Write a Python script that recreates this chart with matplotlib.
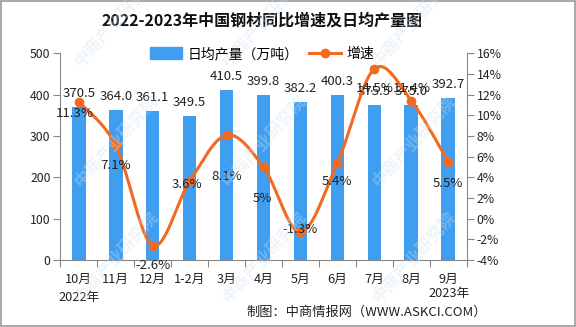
import numpy as np
import matplotlib
matplotlib.use("Agg")
import matplotlib.pyplot as plt
from matplotlib.lines import Line2D
from matplotlib.patches import Patch

plt.rcParams['font.family'] = ['Noto Sans CJK SC', 'DejaVu Sans']

categories = ['10月', '11月', '12月', '1-2月', '3月', '4月', '5月', '6月', '7月', '8月', '9月']
output = [370.5, 364.0, 361.1, 349.5, 410.5, 399.8, 382.2, 400.3, 375.5, 375.0, 392.7]
growth = [11.3, 7.1, -2.6, 3.6, 8.1, 5.0, -1.3, 5.4, 14.5, 11.4, 5.5]
growth_labels = ['11.3%', '7.1%', '-2.6%', '3.6%', '8.1%', '5%', '-1.3%', '5.4%', '14.5%', '11.4%', '5.5%']
left_ticks = [0, 100, 200, 300, 400, 500]
right_ticks = [-4, -2, 0, 2, 4, 6, 8, 10, 12, 14, 16]

# label offsets (pixels, style only)
lab_dy = [-12, -20, -20, -3, -42, -32, 3, -19, -20, 12, -22]
lab_dx = [-4, 0, 0, -3, 0, -1, 0, 0, 0, 0, 0]

BAR = '#3F9EF0'
LINE = '#F26A21'
TXT = '#222222'

fig = plt.figure(figsize=(5.76, 3.27), dpi=100)
fig.patch.set_facecolor('white')

ax = fig.add_axes([60.3/576, 1 - 260/327, (466.7-60.3)/576, (260-53.3)/327])
ax.set_facecolor('none')
x = np.arange(len(categories))
bars = ax.bar(x, output, width=0.37, color=BAR, zorder=2)
ax.set_ylim(0, 500)
ax.set_xlim(-0.5, len(categories) - 0.5)
ax.set_yticks(left_ticks)
ax.set_yticklabels([str(t) for t in left_ticks], fontsize=8.8, color=TXT)
ax.set_xticks(x)
ax.set_xticklabels(categories, fontsize=9.2, color=TXT)
ax.set_xticks(np.arange(-0.5, len(categories)), minor=True)
ax.tick_params(axis='x', which='major', length=0, pad=9)
ax.tick_params(axis='x', which='minor', length=5, color='#888888', width=0.8)
ax.tick_params(axis='y', length=5, color='#888888', width=0.8, pad=2)
for s in ['top', 'right']:
    ax.spines[s].set_visible(False)
ax.spines['left'].set_color('#888888')
ax.spines['bottom'].set_color('#888888')
ax.spines['left'].set_linewidth(0.8)
ax.spines['bottom'].set_linewidth(0.8)

for xi, v in zip(x, output):
    ax.annotate(f'{v:.1f}', (xi, v), xytext=(0, 5), textcoords='offset points',
                ha='center', va='bottom', fontsize=9.5, color=TXT, zorder=5)

ax2 = ax.twinx()
ax2.set_ylim(-4, 16)
ax2.set_yticks(right_ticks)
ax2.set_yticklabels([f'{t}%' for t in right_ticks], fontsize=8.8, color=TXT)
ax2.tick_params(axis='y', length=5, color='#888888', width=0.8, pad=2)
for s in ['top', 'left', 'bottom']:
    ax2.spines[s].set_visible(False)
ax2.spines['right'].set_color('#888888')
ax2.spines['right'].set_linewidth(0.8)

# smooth curve (Catmull-Rom) through the data points
px = x.astype(float)
py = np.array(growth, dtype=float)
P = np.column_stack([px, py])
Pp = np.vstack([P[0], P, P[-1]])
curve = []
t = np.linspace(0, 1, 30)
for i in range(1, len(Pp) - 2):
    p0, p1, p2, p3 = Pp[i-1], Pp[i], Pp[i+1], Pp[i+2]
    for tt in t:
        c = 0.5 * ((2*p1) + (-p0 + p2)*tt + (2*p0 - 5*p1 + 4*p2 - p3)*tt**2 + (-p0 + 3*p1 - 3*p2 + p3)*tt**3)
        curve.append(c)
curve = np.array(curve)
ax2.plot(curve[:, 0], curve[:, 1], color=LINE, lw=2.2, zorder=3, solid_capstyle='round')
ax2.plot(px, py, 'o', color=LINE, ms=6, zorder=4)

for xi, v, lab, dy, dx in zip(x, growth, growth_labels, lab_dy, lab_dx):
    ax2.annotate(lab, (xi, v), xytext=(dx*0.72, dy*0.72), textcoords='offset points',
                 ha='center', va='center', fontsize=9.5, color=TXT, zorder=6)

# legend
handles = [Patch(color=BAR, label='日均产量（万吨）'),
           Line2D([0], [0], color=LINE, lw=2.2, marker='o', ms=6, label='增速')]
fig.legend(handles=handles, loc='center', bbox_to_anchor=(262/576, 1 - 54/327),
           ncol=2, frameon=False, fontsize=10, handlelength=2.3, handleheight=1.0,
           columnspacing=0.8, handletextpad=0.4)

fig.text(262/576, 1 - 21/327, '2022-2023年中国钢材同比增速及日均产量图', ha='center', va='center',
         fontsize=11.5, fontweight='bold', color='#111111')
fig.text(79/576, 1 - 298/327, '2022年', ha='center', va='center', fontsize=9.2, color=TXT)
fig.text(449/576, 1 - 293/327, '2023年', ha='center', va='center', fontsize=9.2, color=TXT)
fig.text(367/576, 1 - 312/327, '制图：中商情报网（WWW.ASKCI.COM）', ha='center', va='center',
         fontsize=9.5, color=TXT)

# faint watermarks
for row_y in [77, 197, 313]:
    for col_x in [65, 213, 363]:
        fx = col_x / 576.0
        fy = 1 - row_y / 327.0
        fig.text(fx + 0.01, fy + 0.02, '中商产业研究院', rotation=48, fontsize=12,
                 color='#cfe0ee', alpha=0.35, ha='left', va='bottom', fontweight='bold')

# border
fig.patches.append(plt.Rectangle((0.001, 0.002), 0.997, 0.995, transform=fig.transFigure,
                                 fill=False, edgecolor='#999999', lw=1.2))

fig.savefig('out.png', dpi=100)
